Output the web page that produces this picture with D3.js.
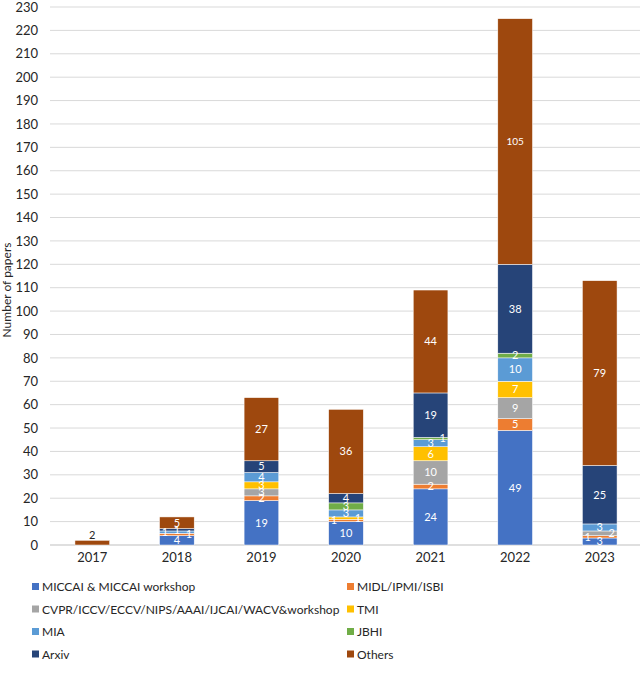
<!DOCTYPE html>
<html>
<head>
<meta charset="utf-8">
<script src="https://cdn.jsdelivr.net/npm/d3@7"></script>
<style>
body { margin: 0; background: #fff; }
text { font-family: Lato, "Open Sans", sans-serif; }
</style>
</head>
<body>
<script>
var years = ["2017", "2018", "2019", "2020", "2021", "2022", "2023"];
var seriesNames = ["MICCAI & MICCAI workshop", "MIDL/IPMI/ISBI",
    "CVPR/ICCV/ECCV/NIPS/AAAI/IJCAI/WACV&workshop", "TMI", "MIA", "JBHI", "Arxiv", "Others"];
var miccai = [0, 4, 19, 10, 24, 49, 3];
var midl   = [0, 1, 2, 1, 2, 5, 1];
var cvpr   = [0, 0, 3, 0, 10, 9, 2];
var tmi    = [0, 0, 3, 1, 6, 7, 0];
var mia    = [0, 1, 4, 3, 3, 10, 3];
var jbhi   = [0, 0, 0, 3, 1, 2, 0];
var arxiv  = [0, 1, 5, 4, 19, 38, 25];
var others = [2, 5, 27, 36, 44, 105, 79];
var yTicks = d3.range(0, 231, 10);

var colors = ["#4472C4", "#ED7D31", "#A5A5A5", "#FFC000", "#5B9BD5", "#70AD47", "#264478", "#9E480E"];
var allSeries = [miccai, midl, cvpr, tmi, mia, jbhi, arxiv, others];

// label nudges (px) for the crowded thin segments
var nudge = {"2018-1": 12, "2018-4": -12, "2020-1": -12, "2020-3": 12,
    "2021-5": 12, "2023-1": -12, "2023-2": 12};

var width = 640, height = 690;

var rows = years.map(function(y, i) {
    var r = {year: y};
    seriesNames.forEach(function(s, j) { r[s] = allSeries[j][i]; });
    return r;
});
var stacked = d3.stack().keys(seriesNames)(rows);

var x = d3.scaleBand().domain(years).range([50, 642]).paddingInner(0.59).paddingOuter(0.295);
var y = d3.scaleLinear().domain([0, 230]).range([545, 7]);

var svg = d3.select("body").append("svg")
    .attr("width", width).attr("height", height);

// gridlines
svg.append("g").selectAll("line").data(yTicks).enter().append("line")
    .attr("x1", 50).attr("x2", 640)
    .attr("y1", function(d) { return y(d); }).attr("y2", function(d) { return y(d); })
    .attr("stroke", function(d) { return d === 0 ? "#bfbfbf" : "#d9d9d9"; })
    .attr("stroke-width", 1);

var yAxis = svg.append("g").attr("transform", "translate(40,0)")
    .call(d3.axisLeft(y).tickValues(yTicks).tickSize(0).tickPadding(2));
yAxis.select(".domain").remove();
yAxis.selectAll("text").attr("font-size", 13).attr("fill", "#262626")
    .style("font-family", "Lato, sans-serif");

var xAxis = svg.append("g").attr("transform", "translate(0,545)")
    .call(d3.axisBottom(x).tickSize(0).tickPadding(8));
xAxis.select(".domain").remove();
xAxis.selectAll("text").attr("font-size", 13).attr("fill", "#262626")
    .style("font-family", "Lato, sans-serif");

svg.append("text")
    .attr("transform", "translate(11,290) rotate(-90)")
    .attr("text-anchor", "middle")
    .attr("font-size", 12).attr("fill", "#262626")
    .text("Number of papers");

var layers = svg.append("g").selectAll("g").data(stacked).enter().append("g")
    .attr("fill", function(d, i) { return colors[i]; });

layers.selectAll("rect").data(function(d) { return d; }).enter()
    .filter(function(d) { return d[1] - d[0] > 0; })
    .append("rect")
    .attr("x", function(d) { return x(d.data.year); })
    .attr("width", x.bandwidth())
    .attr("y", function(d) { return y(d[1]); })
    .attr("height", function(d) { return y(d[0]) - y(d[1]); })
    .attr("stroke", "#fff").attr("stroke-width", 0.5);

// data labels
stacked.forEach(function(layer, j) {
    layer.forEach(function(d) {
        var v = d[1] - d[0];
        if (v <= 0) return;
        var h = y(d[0]) - y(d[1]);
        var dx = nudge[d.data.year + "-" + j] || 0;
        var isTop = j === stacked.length - 1;
        var outside = isTop && h < 8;
        svg.append("text")
            .attr("x", x(d.data.year) + x.bandwidth() / 2 + dx)
            .attr("y", outside ? y(d[1]) - 5 : (y(d[0]) + y(d[1])) / 2)
            .attr("dy", "0.35em")
            .attr("text-anchor", "middle")
            .attr("font-size", v >= 100 ? 10 : 11)
            .attr("fill", outside ? "#262626" : "#fff")
            .text(v);
    });
});

// legend
var legend = svg.append("g").selectAll("g").data(seriesNames).enter().append("g")
    .attr("transform", function(d, i) {
        return "translate(" + (i % 2 === 0 ? 32 : 347) + "," + (587 + Math.floor(i / 2) * 22.5) + ")";
    });
legend.append("rect").attr("x", 0).attr("y", -4).attr("width", 7).attr("height", 7)
    .attr("fill", function(d, i) { return colors[i]; });
legend.append("text").attr("x", 10).attr("dy", "0.35em")
    .attr("font-size", 12).attr("fill", "#262626")
    .text(function(d) { return d; });
</script>
</body>
</html>
